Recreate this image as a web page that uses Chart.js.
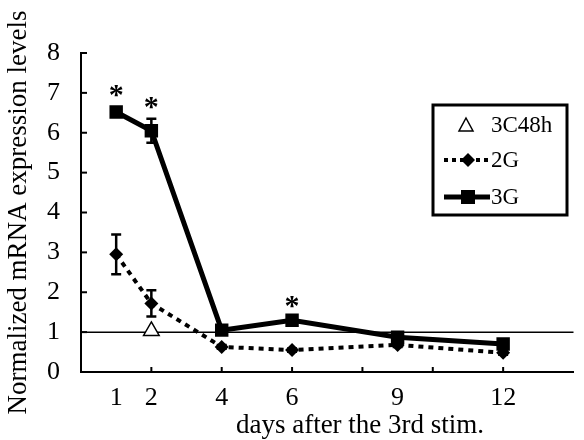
<!DOCTYPE html>
<html>
<head>
<meta charset="utf-8">
<script src="https://cdn.jsdelivr.net/npm/chart.js@4"></script>
<style>
  html, body { margin: 0; padding: 0; background: #fff; }
</style>
</head>
<body>
<canvas id="myChart" width="584" height="440"></canvas>
<script>
// days after the 3rd stimulation
const days = [1, 2, 4, 6, 9, 12];
const g3 = [6.52, 6.05, 1.05, 1.3, 0.87, 0.7];
const g3Err = [0.12, 0.3, 0.05, 0.06, 0.05, 0.05];
const g2 = [2.95, 1.72, 0.63, 0.55, 0.68, 0.48];
const g2Err = [0.5, 0.33, 0.05, 0.04, 0.05, 0.05];
const c48Days = [2];
const c48 = [1.03];
const sigDays = [1, 2, 6];
const yTicks = [0, 1, 2, 3, 4, 5, 6, 7, 8];
const minorX = [2, 4, 6, 8, 10, 12];

const serif = 'Liberation Serif';
Chart.defaults.font.family = serif;
Chart.defaults.color = '#000';

const extras = {
  id: 'extras',
  beforeDatasetsDraw(chart) {
    const { ctx, chartArea, scales: { x, y } } = chart;
    ctx.save();
    ctx.strokeStyle = '#000';
    // reference line at 1
    ctx.lineWidth = 1.5;
    ctx.beginPath();
    ctx.moveTo(chartArea.left, y.getPixelForValue(1));
    ctx.lineTo(chartArea.right, y.getPixelForValue(1));
    ctx.stroke();
    // inward ticks
    ctx.lineWidth = 2;
    yTicks.forEach(v => {
      const py = y.getPixelForValue(v);
      ctx.beginPath();
      ctx.moveTo(chartArea.left, py);
      ctx.lineTo(chartArea.left + 6, py);
      ctx.stroke();
    });
    minorX.forEach(v => {
      const px = x.getPixelForValue(v);
      ctx.beginPath();
      ctx.moveTo(px, chartArea.bottom);
      ctx.lineTo(px, chartArea.bottom - 5);
      ctx.stroke();
    });
    // error bars
    ctx.lineWidth = 2.5;
    const bars = (vals, errs) => {
      vals.forEach((v, i) => {
        const px = x.getPixelForValue(days[i]);
        const top = y.getPixelForValue(v + errs[i]);
        const bot = y.getPixelForValue(v - errs[i]);
        ctx.beginPath();
        ctx.moveTo(px, top); ctx.lineTo(px, bot);
        ctx.moveTo(px - 5, top); ctx.lineTo(px + 5, top);
        ctx.moveTo(px - 5, bot); ctx.lineTo(px + 5, bot);
        ctx.stroke();
      });
    };
    bars(g2, g2Err);
    bars(g3, g3Err);
    ctx.restore();
  },
  afterDatasetsDraw(chart) {
    const { ctx, scales: { x, y } } = chart;
    ctx.save();
    ctx.fillStyle = '#000';
    ctx.textAlign = 'center';
    ctx.textBaseline = 'middle';
    // significance marks
    ctx.font = 'bold 30px ' + serif;
    sigDays.forEach(d => {
      const i = days.indexOf(d);
      const py = y.getPixelForValue(g3[i] + g3Err[i]) - 18;
      ctx.fillText('*', x.getPixelForValue(d), py + 7);
    });
    // x title
    ctx.font = '27px ' + serif;
    ctx.fillText('days after the 3rd stim.', 360, 426);

    // legend
    ctx.strokeStyle = '#000';
    ctx.lineWidth = 3;
    ctx.strokeRect(433, 105, 134, 110);
    ctx.font = '23px ' + serif;
    ctx.textAlign = 'left';
    // 3C48h
    ctx.lineWidth = 1.5;
    ctx.beginPath();
    ctx.moveTo(466, 118); ctx.lineTo(473, 131); ctx.lineTo(459, 131); ctx.closePath();
    ctx.stroke();
    ctx.fillText('3C48h', 491, 126);
    // 2G
    ctx.lineWidth = 4;
    ctx.setLineDash([4, 4]);
    ctx.beginPath();
    ctx.moveTo(444, 160); ctx.lineTo(490, 160);
    ctx.stroke();
    ctx.setLineDash([]);
    ctx.beginPath();
    ctx.moveTo(468, 153); ctx.lineTo(475, 160); ctx.lineTo(468, 167); ctx.lineTo(461, 160); ctx.closePath();
    ctx.fill();
    ctx.fillText('2G', 491, 161);
    // 3G
    ctx.lineWidth = 5;
    ctx.beginPath();
    ctx.moveTo(444, 197); ctx.lineTo(490, 197);
    ctx.stroke();
    ctx.fillRect(461, 190, 14, 14);
    ctx.fillText('3G', 491, 198);
    ctx.restore();
  }
};

new Chart(document.getElementById('myChart'), {
  type: 'line',
  data: {
    datasets: [
      {
        label: '3C48h',
        data: c48Days.map((d, i) => ({ x: d, y: c48[i] })),
        showLine: false,
        pointStyle: 'triangle',
        pointRadius: 9,
        pointBackgroundColor: '#fff',
        pointBorderColor: '#000',
        pointBorderWidth: 1.5,
        order: 3
      },
      {
        label: '2G',
        data: days.map((d, i) => ({ x: d, y: g2[i] })),
        borderColor: '#000',
        borderWidth: 4,
        borderDash: [5, 5],
        pointStyle: 'rectRot',
        pointRadius: 7,
        pointBackgroundColor: '#000',
        pointBorderColor: '#000',
        pointBorderWidth: 0,
        order: 2
      },
      {
        label: '3G',
        data: days.map((d, i) => ({ x: d, y: g3[i] })),
        borderColor: '#000',
        borderWidth: 5,
        pointStyle: 'rect',
        pointRadius: 9.5,
        pointBackgroundColor: '#000',
        pointBorderColor: '#000',
        pointBorderWidth: 0,
        order: 1
      }
    ]
  },
  options: {
    responsive: false,
    animation: false,
    layout: { padding: { top: 53, right: 0, left: 0, bottom: 0 } },
    plugins: { legend: { display: false }, tooltip: { enabled: false } },
    scales: {
      x: {
        type: 'linear',
        min: 0,
        max: 14,
        grid: { display: false },
        border: { display: true, color: '#000', width: 2 },
        ticks: { font: { size: 26 }, padding: 3, color: '#000' },
        afterBuildTicks: s => { s.ticks = days.map(v => ({ value: v })); },
        afterFit: s => { s.height = 68; }
      },
      y: {
        min: 0,
        max: 8,
        grid: { display: false },
        border: { display: true, color: '#000', width: 2 },
        ticks: { stepSize: 1, font: { size: 26 }, padding: 13, color: '#000' },
        title: {
          display: true,
          text: 'Normalized mRNA expression levels',
          font: { size: 27 },
          color: '#000',
          padding: { top: 3, bottom: 0 }
        },
        afterFit: s => { s.width = 81; }
      }
    }
  },
  plugins: [extras]
});
</script>
</body>
</html>
